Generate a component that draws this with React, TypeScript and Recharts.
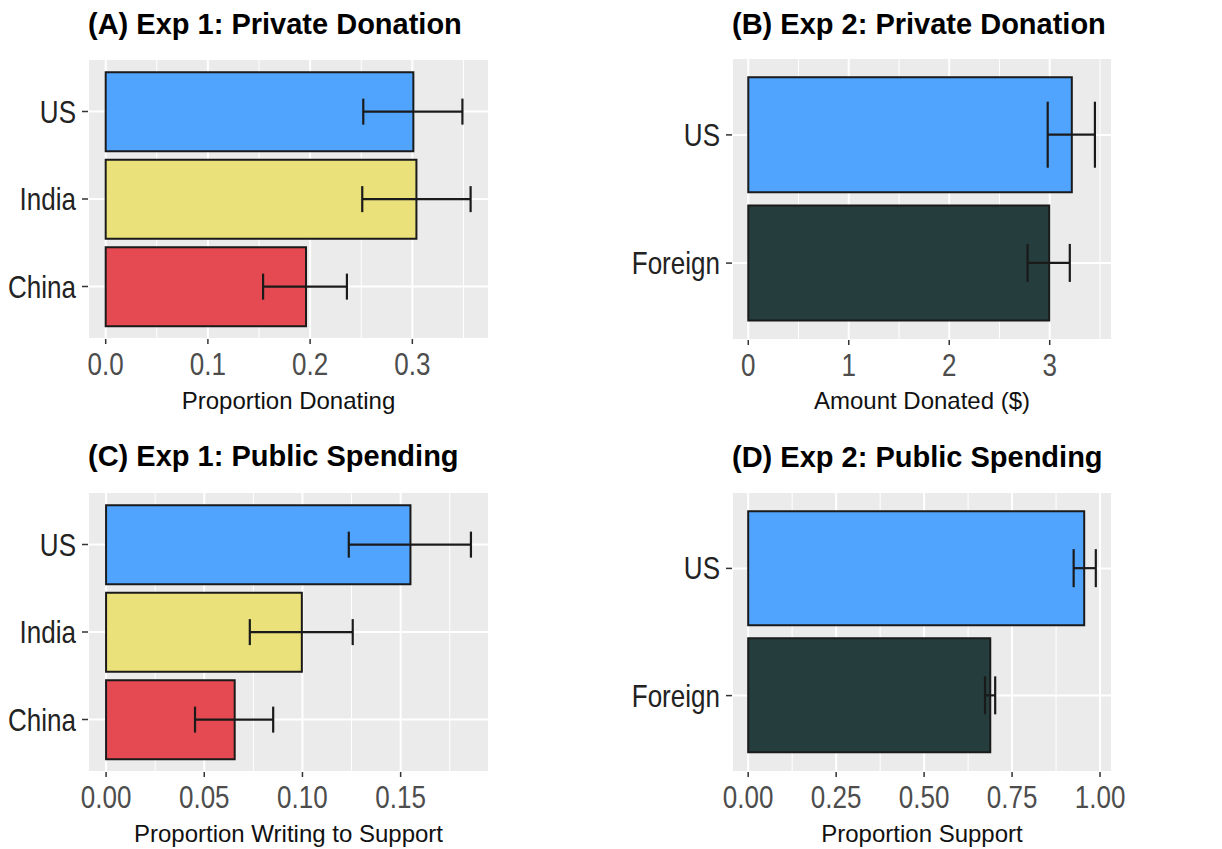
import React from 'react';
import {BarChart, Bar, XAxis, YAxis, CartesianGrid, ErrorBar, Cell, Label} from 'recharts';

const exp1Groups = ['US', 'India', 'China'];
const exp1Colors = ['#50A4FE', '#EAE17B', '#E54A52'];
const exp2Groups = ['US', 'Foreign'];
const exp2Colors = ['#50A4FE', '#253D3D'];

// (A) proportion donating
const donateMean = [0.301, 0.304, 0.196];
const donateLow = [0.252, 0.251, 0.154];
const donateHigh = [0.349, 0.357, 0.236];
const donateTicks = [0, 0.1, 0.2, 0.3];
const donateMinor = [0.05, 0.15, 0.25, 0.35];

// (B) amount donated
const amountMean = [3.22, 2.995];
const amountLow = [2.98, 2.78];
const amountHigh = [3.45, 3.2];
const amountTicks = [0, 1, 2, 3];
const amountMinor = [0.5, 1.5, 2.5, 3.5];

// (C) proportion writing to support
const writeMean = [0.155, 0.0997, 0.0655];
const writeLow = [0.1236, 0.0732, 0.0453];
const writeHigh = [0.1858, 0.1256, 0.0851];
const writeTicks = [0, 0.05, 0.1, 0.15];
const writeMinor = [0.025, 0.075, 0.125, 0.175];

// (D) proportion support
const supportMean = [0.955, 0.688];
const supportLow = [0.925, 0.673];
const supportHigh = [0.988, 0.702];
const supportTicks = [0, 0.25, 0.5, 0.75, 1];
const supportMinor = [0.125, 0.375, 0.625, 0.875];

const FONT = '"Liberation Sans", Arial, Helvetica, sans-serif';

const buildRows = (groups: string[], mean: number[], low: number[], high: number[], caps: number[]) =>
  groups.map((name, i) => ({
    name,
    value: mean[i],
    ['err' + caps[i]]: [mean[i] - low[i], high[i] - mean[i]],
  }));

interface PanelProps {
  left: number;
  top: number;
  height: number;
  marginTop: number;
  marginRight: number;
  yWidth: number;
  xHeight: number;
  yPad: number;
  groups: string[];
  colors: string[];
  mean: number[];
  low: number[];
  high: number[];
  caps: number[];
  domain: [number, number];
  ticks: number[];
  minor: number[];
  digits: number;
  xLabel: string;
  labelOffset: number;
  title: string;
  titleTop: number;
}

const Panel = (p: PanelProps) => {
  const data = buildRows(p.groups, p.mean, p.low, p.high, p.caps);
  const capSizes = Array.from(new Set(p.caps));
  return (
    <div style={{position: 'absolute', left: p.left, top: p.top, width: 611, height: p.height}}>
      <div style={{
        position: 'absolute', left: p.marginRight === 122 ? 88 : 121, top: p.titleTop,
        fontFamily: FONT, fontWeight: 'bold', fontSize: 29, lineHeight: '29px', color: '#000', whiteSpace: 'nowrap',
      }}>{p.title}</div>
      <BarChart width={611} height={p.height} data={data} layout="vertical" barCategoryGap="5%"
                margin={{top: p.marginTop, right: p.marginRight, left: 0, bottom: 0}}>
        <CartesianGrid fill="#EBEBEB" stroke="#FFFFFF" strokeWidth={2} />
        <CartesianGrid xAxisId="minor" horizontal={false} stroke="#FFFFFF" strokeWidth={1} />
        <XAxis xAxisId="minor" type="number" domain={p.domain} ticks={p.minor} allowDataOverflow hide />
        <XAxis type="number" domain={p.domain} ticks={p.ticks} allowDataOverflow interval={0}
               height={p.xHeight} axisLine={false} tickSize={5} tickMargin={0}
               tickLine={{stroke: '#333333', strokeWidth: 1.5}}
               tick={(t: any) => (
                 <g transform={`translate(${t.x},${t.y})`}>
                   <text x={0} y={0} dy={31.5} textAnchor="middle" transform="scale(0.84,1)"
                         fontSize={31} fontFamily={FONT} fill="#4D4D4D">
                     {Number(t.payload.value).toFixed(p.digits)}
                   </text>
                 </g>
               )}>
          <Label value={p.xLabel} position="insideBottom" offset={p.labelOffset}
                 style={{fontSize: 24, fontFamily: FONT, fill: '#111111'}} />
        </XAxis>
        <YAxis type="category" dataKey="name" width={p.yWidth} interval={0}
               padding={{top: p.yPad, bottom: p.yPad}} axisLine={false} tickSize={6} tickMargin={6}
               tickLine={{stroke: '#333333', strokeWidth: 1.5}}
               tick={(t: any) => (
                 <g transform={`translate(${t.x},${t.y})`}>
                   <text x={0} y={0} dy={11} textAnchor="end" transform="scale(0.84,1)"
                         fontSize={31} fontFamily={FONT} fill="#222222">
                     {t.payload.value}
                   </text>
                 </g>
               )} />
        <Bar dataKey="value" stroke="#1A1A1A" strokeWidth={2} isAnimationActive={false}>
          {data.map((d, i) => <Cell key={d.name} fill={p.colors[i]} />)}
          {capSizes.map(c => (
            <ErrorBar key={c} dataKey={'err' + c} direction="x" width={c}
                      stroke="#1A1A1A" strokeWidth={2.2} isAnimationActive={false} />
          ))}
        </Bar>
      </BarChart>
    </div>
  );
};

const App = () => (
  <div style={{position: 'absolute', left: 0, top: 0, width: 1222, height: 849, background: '#FFFFFF'}}>
    <Panel left={0} top={0} height={425} marginTop={59} marginRight={122} yWidth={88} xHeight={86}
           yPad={8.75} groups={exp1Groups} colors={exp1Colors}
           mean={donateMean} low={donateLow} high={donateHigh} caps={[13, 13, 13]}
           domain={[-0.0173, 0.375]} ticks={donateTicks} minor={donateMinor} digits={1}
           xLabel="Proportion Donating" labelOffset={16}
           title="(A) Exp 1: Private Donation" titleTop={10} />
    <Panel left={611} top={0} height={425} marginTop={58} marginRight={110} yWidth={121} xHeight={85}
           yPad={12.8} groups={exp2Groups} colors={exp2Colors}
           mean={amountMean} low={amountLow} high={amountHigh} caps={[33, 19]}
           domain={[-0.162, 3.62]} ticks={amountTicks} minor={amountMinor} digits={0}
           xLabel="Amount Donated ($)" labelOffset={16}
           title="(B) Exp 2: Private Donation" titleTop={10} />
    <Panel left={0} top={425} height={424} marginTop={67} marginRight={122} yWidth={88} xHeight={77}
           yPad={8.75} groups={exp1Groups} colors={exp1Colors}
           mean={writeMean} low={writeLow} high={writeHigh} caps={[13, 13, 13]}
           domain={[-0.0092, 0.195]} ticks={writeTicks} minor={writeMinor} digits={2}
           xLabel="Proportion Writing to Support" labelOffset={7}
           title="(C) Exp 1: Public Spending" titleTop={17} />
    <Panel left={611} top={425} height={424} marginTop={67} marginRight={110} yWidth={121} xHeight={77}
           yPad={12.8} groups={exp2Groups} colors={exp2Colors}
           mean={supportMean} low={supportLow} high={supportHigh} caps={[19, 19]}
           domain={[-0.046, 1.034]} ticks={supportTicks} minor={supportMinor} digits={2}
           xLabel="Proportion Support" labelOffset={7}
           title="(D) Exp 2: Public Spending" titleTop={18} />
  </div>
);

export default App;
